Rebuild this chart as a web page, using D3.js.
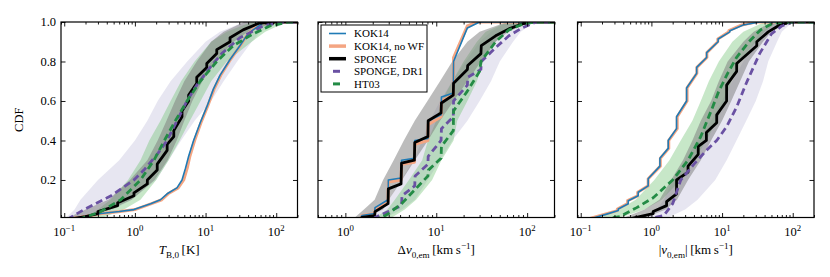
<!DOCTYPE html>
<html>
<head>
<meta charset="utf-8">
<script src="https://cdn.jsdelivr.net/npm/d3@7"></script>
<style>
    body { margin: 0; background: #fff; }
    svg text { font-family: "Liberation Serif", "DejaVu Serif", serif; fill: #000; }
</style>
</head>
<body>
<svg id="chart"></svg>
<script>
// CDF values: [x, cumulative fraction]
var yTicks = [0.2, 0.4, 0.6, 0.8, 1.0];
var tbMajors = [0.1, 1, 10, 100];
var dvMajors = [1, 10, 100];
var vMajors = [0.1, 1, 10, 100];

var legendNames = ["KOK14", "KOK14, no\u2009WF", "SPONGE", "SPONGE, DR1", "HT03"];

// panel 1: T_B,0
var tbKok14 = [[0.1,0],[0.2,0.015],[0.33,0.03],[0.6,0.04],[0.97,0.05],[1.67,0.08],[2.3,0.1],[2.86,0.13],[3.94,0.16],[4.64,0.2],[5.2,0.26],[5.76,0.32],[6.77,0.4],[8.4,0.49],[10.4,0.57],[12.9,0.66],[16,0.73],[22.2,0.81],[30.6,0.88],[38,0.93],[47,0.96],[65,0.995],[100,1],[200,1]];
var tbKok14NoWF = [[0.1,0],[0.2,0.015],[0.34,0.03],[0.62,0.04],[1.0,0.05],[1.72,0.08],[2.4,0.1],[2.95,0.13],[4.1,0.16],[4.9,0.2],[5.5,0.26],[6.0,0.32],[7.0,0.4],[8.6,0.49],[10.6,0.57],[13.2,0.66],[16.4,0.73],[22.5,0.81],[31,0.88],[38,0.93],[46,0.96],[62,0.995],[95,1],[200,1]];
var tbSponge = [[0.11,0],[0.2,0.015],[0.3,0.03],[0.3,0.04],[0.57,0.07],[0.57,0.085],[0.97,0.12],[0.97,0.135],[1.5,0.18],[1.5,0.2],[2.07,0.25],[2.07,0.28],[2.86,0.35],[2.86,0.38],[3.55,0.42],[3.55,0.45],[4.64,0.52],[4.64,0.55],[5.76,0.6],[5.76,0.63],[7.5,0.69],[7.5,0.72],[10.4,0.77],[10.4,0.79],[14.4,0.84],[14.4,0.86],[22.2,0.9],[22.2,0.92],[34,0.96],[58,0.995],[100,1],[200,1]];
var tbDr1 = [[0.11,0],[0.19,0.05],[0.46,0.12],[0.97,0.2],[1.34,0.25],[2.07,0.33],[2.86,0.4],[3.94,0.5],[5.46,0.6],[7.5,0.68],[11.6,0.77],[16.9,0.84],[30.6,0.92],[65,0.98],[120,1],[200,1]];
var tbHt03 = [[0.16,0],[0.33,0.04],[0.63,0.1],[1.2,0.2],[1.86,0.3],[2.71,0.41],[3.74,0.5],[5.46,0.6],[8.4,0.7],[14.4,0.8],[24.7,0.88],[47,0.94],[81,0.98],[150,1],[200,1]];
// bootstrap spread: [cumulative fraction, low x, high x]
var tbSpongeBand = [[0,0.1,0.13],[0.05,0.2,0.45],[0.1,0.42,0.9],[0.2,0.85,1.9],[0.3,1.5,2.9],[0.4,2.1,3.9],[0.5,2.8,5.0],[0.6,3.7,6.5],[0.7,5.0,9.0],[0.8,7.5,14],[0.9,12,25],[0.95,18,40],[1,35,100]];
var tbDr1Band = [[0,0.1,0.2],[0.05,0.14,0.5],[0.1,0.17,0.9],[0.2,0.3,2.0],[0.3,0.6,3.0],[0.4,1.0,4.5],[0.5,1.5,7],[0.6,2.1,12],[0.7,3.2,18],[0.8,5.5,28],[0.9,10,45],[0.95,16,60],[1,35,110]];
var tbHt03Band = [[0,0.2,0.3],[0.05,0.3,0.7],[0.1,0.45,1.2],[0.2,0.8,2.0],[0.3,1.2,3.0],[0.4,1.6,4.3],[0.5,2.3,6],[0.6,3.2,8.5],[0.7,4.5,12],[0.8,7,20],[0.9,12,45],[0.95,20,70],[1,45,140]];

// panel 2: delta v
var dvKok14 = [[0.5,0],[1.45,0],[1.52,0.02],[2.1,0.03],[2.12,0.06],[2.95,0.1],[2.97,0.2],[4.1,0.21],[4.15,0.3],[5.75,0.31],[5.8,0.4],[8.1,0.41],[8.15,0.5],[11.3,0.53],[11.4,0.62],[15.4,0.64],[15.5,0.8],[22,0.97],[30,1],[200,1]];
var dvKok14NoWF = [[0.5,0],[1.45,0],[1.52,0.02],[2.1,0.03],[2.12,0.05],[2.95,0.09],[2.97,0.19],[4.1,0.2],[4.15,0.28],[5.75,0.29],[5.8,0.38],[8.1,0.4],[8.15,0.48],[11.3,0.52],[11.4,0.6],[15.4,0.63],[15.5,0.82],[22,0.98],[28,1],[200,1]];
var dvSponge = [[0.5,0],[1.45,0],[1.52,0.01],[2.1,0.02],[2.12,0.04],[2.95,0.08],[2.97,0.155],[4.1,0.18],[4.15,0.285],[5.75,0.3],[5.8,0.39],[8.1,0.42],[8.15,0.5],[11.3,0.54],[11.4,0.59],[15.4,0.63],[15.5,0.69],[22,0.76],[22.2,0.78],[31,0.84],[31.3,0.88],[45,0.93],[63,0.965],[88,0.99],[115,1],[200,1]];
var dvDr1 = [[0.5,0],[1.9,0],[2.12,0.01],[2.97,0.04],[4.15,0.07],[4.2,0.12],[5.8,0.17],[5.85,0.22],[8.1,0.28],[8.15,0.32],[11.3,0.4],[11.4,0.46],[15.4,0.52],[15.5,0.6],[22,0.68],[22.2,0.72],[31,0.76],[31.3,0.8],[45,0.87],[63,0.93],[88,0.97],[125,1],[200,1]];
var dvHt03 = [[0.5,0],[2.0,0],[2.5,0.01],[3.0,0.03],[4.15,0.08],[5.8,0.15],[8.1,0.22],[8.2,0.25],[11.3,0.31],[11.4,0.37],[15.4,0.45],[15.5,0.55],[22,0.65],[30,0.75],[31,0.8],[45,0.9],[63,0.96],[90,0.99],[120,1],[200,1]];
var dvSpongeBand = [[0,1.2,1.5],[0.05,1.6,2.6],[0.1,2.1,3.0],[0.2,2.6,4.2],[0.3,3.4,5.8],[0.4,4.4,8.1],[0.5,5.8,11],[0.6,8,15.5],[0.7,11,22],[0.8,15,31],[0.9,22,45],[0.95,30,62],[1,60,110]];
var dvDr1Band = [[0,1.5,2.5],[0.05,2.2,4.2],[0.1,3.0,5.8],[0.2,4.1,8.1],[0.3,5.6,11],[0.4,7,15],[0.5,8.5,22],[0.6,11,30],[0.7,15,40],[0.8,21,50],[0.9,30,70],[0.95,40,85],[1,60,120]];
var dvHt03Band = [[0,2.0,3.0],[0.05,2.9,4.5],[0.1,3.5,6],[0.2,5,9],[0.3,7,11.4],[0.4,8.1,15.5],[0.5,10,17],[0.6,11.4,22],[0.7,15,28],[0.8,20,33],[0.9,28,45],[0.95,35,55],[1,60,90]];

// panel 3: |v|
var vKok14 = [[0.128,0],[0.233,0.027],[0.34,0.045],[0.34,0.053],[0.47,0.08],[0.47,0.095],[0.65,0.12],[0.65,0.138],[0.9,0.17],[0.9,0.206],[1.32,0.27],[1.32,0.31],[1.73,0.36],[1.73,0.4],[2.27,0.46],[2.27,0.52],[3.15,0.6],[3.15,0.666],[4.37,0.74],[4.37,0.77],[6.05,0.82],[6.05,0.845],[8.8,0.9],[8.8,0.914],[12.9,0.95],[12.9,0.956],[19.9,0.985],[34,1],[200,1]];
var vKok14NoWF = [[0.12,0],[0.22,0.027],[0.33,0.045],[0.33,0.053],[0.46,0.08],[0.46,0.095],[0.64,0.12],[0.64,0.138],[0.9,0.17],[0.9,0.206],[1.34,0.27],[1.34,0.31],[1.76,0.36],[1.76,0.4],[2.32,0.46],[2.32,0.52],[3.2,0.6],[3.2,0.666],[4.4,0.74],[4.4,0.77],[6.1,0.82],[6.1,0.845],[8.7,0.9],[8.7,0.914],[12.5,0.95],[12.5,0.956],[19,0.985],[30,1],[200,1]];
var vSponge = [[0.45,0],[0.59,0.01],[1.06,0.03],[1.06,0.04],[1.64,0.07],[1.64,0.09],[2.27,0.13],[2.27,0.2],[3.3,0.24],[3.3,0.27],[4.6,0.33],[4.6,0.37],[6.0,0.4],[6.0,0.44],[8.4,0.49],[8.4,0.53],[11.6,0.6],[11.6,0.68],[16.1,0.75],[16.1,0.79],[31,0.88],[31,0.9],[45,0.95],[62,0.98],[91,1],[200,1]];
var vDr1 = [[0.8,0],[1.5,0.02],[2.0,0.08],[2.6,0.2],[4.0,0.28],[6.0,0.35],[8.4,0.4],[11.6,0.47],[16.1,0.57],[22,0.69],[34,0.84],[50,0.94],[70,0.98],[100,1],[200,1]];
var vHt03 = [[0.2,0],[0.36,0.015],[0.62,0.06],[1.06,0.11],[2.0,0.2],[3.3,0.3],[5.0,0.42],[7.0,0.55],[9.0,0.65],[12,0.74],[16,0.82],[24,0.9],[35,0.96],[50,0.99],[70,1],[200,1]];
var vSpongeBand = [[0,0.35,0.7],[0.05,0.8,1.6],[0.1,1.3,2.3],[0.2,1.9,3.3],[0.3,2.8,5],[0.4,3.8,7],[0.5,5,10],[0.6,7,13.5],[0.7,9,18],[0.8,12,24],[0.9,20,38],[0.95,28,50],[1,50,90]];
var vDr1Band = [[0,0.7,1.5],[0.05,1.2,3.0],[0.1,1.5,4.5],[0.2,2.0,8],[0.3,3.0,11.6],[0.4,4.5,16],[0.5,7,22],[0.6,10,30],[0.7,14,38],[0.8,20,45],[0.9,28,60],[0.95,35,70],[1,60,100]];
var vHt03Band = [[0,0.15,0.3],[0.05,0.35,0.8],[0.1,0.6,1.4],[0.2,1.1,2.6],[0.3,1.8,4],[0.4,2.6,6],[0.5,3.8,8.4],[0.6,5,11],[0.7,6.5,13.5],[0.8,9,18],[0.9,14,30],[0.95,20,40],[1,40,60]];

var width = 830, height = 277;
var panelLeft = [61, 318, 577.5];
var panelWidth = 236.5;
var plotTop = 22, plotBottom = 217.5;

var colors = {
    kok14: "#1f7bb6",
    nowf: "#f4a582",
    sponge: "#000000",
    dr1: "#6a51a3",
    ht03: "#238b45"
};

// draw order: orange under blue, then black, purple, green
var lineStyles = [
    { key: 1, color: colors.nowf, width: 3, dash: null },
    { key: 0, color: colors.kok14, width: 1.6, dash: null },
    { key: 2, color: colors.sponge, width: 2.8, dash: null },
    { key: 3, color: colors.dr1, width: 2.8, dash: "7,4" },
    { key: 4, color: colors.ht03, width: 2.8, dash: "7,4" }
];
var bandStyles = [
    { key: 3, color: "#9e9ac8", opacity: 0.25 },
    { key: 4, color: "#74c476", opacity: 0.4 },
    { key: 2, color: "#7a7a7a", opacity: 0.5 }
];

var panels = [
    { domain: [0.09, 200], majors: tbMajors,
      curves: [tbKok14, tbKok14NoWF, tbSponge, tbDr1, tbHt03],
      bands: { 2: tbSpongeBand, 3: tbDr1Band, 4: tbHt03Band },
      title: [{ t: "T", it: true }, { t: "B,0", sub: true }, { t: "\u2009[K]" }] },
    { domain: [0.5, 200], majors: dvMajors,
      curves: [dvKok14, dvKok14NoWF, dvSponge, dvDr1, dvHt03],
      bands: { 2: dvSpongeBand, 3: dvDr1Band, 4: dvHt03Band },
      title: [{ t: "\u0394" }, { t: "v", it: true }, { t: "0,em", sub: true }, { t: "\u2009[km\u2009s" }, { t: "\u22121", sup: true }, { t: "]" }] },
    { domain: [0.09, 200], majors: vMajors,
      curves: [vKok14, vKok14NoWF, vSponge, vDr1, vHt03],
      bands: { 2: vSpongeBand, 3: vDr1Band, 4: vHt03Band },
      title: [{ t: "|" }, { t: "v", it: true }, { t: "0,em", sub: true }, { t: "|\u2009[km\u2009s" }, { t: "\u22121", sup: true }, { t: "]" }] }
];

var svg = d3.select("#chart").attr("width", width).attr("height", height);

var y = d3.scaleLinear().domain([0.01, 1.0]).range([plotBottom, plotTop]);

function richText(sel, parts, size) {
    var shift = 0;
    parts.forEach(function(p) {
        var target = p.sub ? 3.5 : (p.sup ? -5 : 0);
        sel.append("tspan")
            .attr("dy", target - shift)
            .style("font-size", (p.sub || p.sup) ? (size * 0.7) + "px" : size + "px")
            .style("font-style", p.it ? "italic" : "normal")
            .text(p.t);
        shift = target;
    });
}

function expLabel(v) {
    var e = Math.round(Math.log10(v));
    return [{ t: "10" }, { t: (e < 0 ? "\u2212" : "") + Math.abs(e), sup: true }];
}

panels.forEach(function(p, pi) {
    var x0 = panelLeft[pi], x1 = x0 + panelWidth;
    var x = d3.scaleLog().domain(p.domain).range([x0, x1]);
    var g = svg.append("g");

    g.append("clipPath").attr("id", "clip" + pi)
        .append("rect")
        .attr("x", x0).attr("y", plotTop)
        .attr("width", panelWidth).attr("height", plotBottom - plotTop);

    var plot = g.append("g").attr("clip-path", "url(#clip" + pi + ")");

    var area = d3.area()
        .y(function(d) { return y(d[0]); })
        .x0(function(d) { return x(d[1]); })
        .x1(function(d) { return x(d[2]); });

    bandStyles.forEach(function(s) {
        plot.append("path")
            .datum(p.bands[s.key])
            .attr("d", area)
            .attr("fill", s.color)
            .attr("fill-opacity", s.opacity);
    });

    var line = d3.line()
        .x(function(d) { return x(d[0]); })
        .y(function(d) { return y(d[1]); });

    lineStyles.forEach(function(s) {
        plot.append("path")
            .datum(p.curves[s.key])
            .attr("d", line)
            .attr("fill", "none")
            .attr("stroke", s.color)
            .attr("stroke-width", s.width)
            .attr("stroke-dasharray", s.dash)
            .attr("stroke-linejoin", "round");
    });

    // ticks, all pointing inward
    var minors = x.ticks().filter(function(t) {
        return !p.majors.some(function(m) { return Math.abs(m - t) / m < 1e-6; });
    });
    function tickAxis(axis, vals, size, tr) {
        var a = g.append("g").attr("transform", tr)
            .call(axis.tickValues(vals).tickSize(-size).tickFormat(""));
        a.select(".domain").remove();
        a.selectAll("line").attr("stroke", "#000").attr("stroke-width", 0.9);
    }
    tickAxis(d3.axisBottom(x), p.majors, 4.5, "translate(0," + plotBottom + ")");
    tickAxis(d3.axisBottom(x), minors, 2.5, "translate(0," + plotBottom + ")");
    tickAxis(d3.axisTop(x), p.majors, 4.5, "translate(0," + plotTop + ")");
    tickAxis(d3.axisTop(x), minors, 2.5, "translate(0," + plotTop + ")");
    tickAxis(d3.axisLeft(y), yTicks, 4.5, "translate(" + x0 + ",0)");
    tickAxis(d3.axisRight(y), yTicks, 4.5, "translate(" + x1 + ",0)");

    g.append("rect")
        .attr("x", x0).attr("y", plotTop)
        .attr("width", panelWidth).attr("height", plotBottom - plotTop)
        .attr("fill", "none").attr("stroke", "#000").attr("stroke-width", 1.2);

    p.majors.forEach(function(m) {
        var t = g.append("text")
            .attr("x", x(m)).attr("y", 236)
            .attr("text-anchor", "middle");
        richText(t, expLabel(m), 12.5);
    });

    var title = g.append("text")
        .attr("x", (x0 + x1) / 2).attr("y", 254)
        .attr("text-anchor", "middle");
    richText(title, p.title, 13);

    if (pi === 0) {
        yTicks.forEach(function(v) {
            g.append("text")
                .attr("x", x0 - 5).attr("y", y(v))
                .attr("dy", "0.35em")
                .attr("text-anchor", "end")
                .style("font-size", "12.5px")
                .text(d3.format(".1f")(v));
        });
        g.append("text")
            .attr("transform", "translate(23," + ((plotTop + plotBottom) / 2) + ") rotate(-90)")
            .attr("text-anchor", "middle")
            .style("font-size", "12.5px")
            .text("CDF");
    }

    if (pi === 1) {
        var lg = g.append("g").attr("transform", "translate(" + (x0 + 3) + "," + (plotTop + 3) + ")");
        lg.append("rect")
            .attr("width", 106).attr("height", 67)
            .attr("fill", "#fff").attr("stroke", "#000").attr("stroke-width", 1);
        var legendStyles = [
            { color: colors.kok14, width: 1.6, dashed: false },
            { color: colors.nowf, width: 3.5, dashed: false },
            { color: colors.sponge, width: 3.5, dashed: false },
            { color: colors.dr1, width: 3, dashed: true },
            { color: colors.ht03, width: 3, dashed: true }
        ];
        legendNames.forEach(function(name, i) {
            var ly = 8.5 + i * 12.6;
            var s = legendStyles[i];
            lg.append("line")
                .attr("x1", s.dashed ? 12 : 8).attr("x2", s.dashed ? 19 : 25)
                .attr("y1", ly).attr("y2", ly)
                .attr("stroke", s.color).attr("stroke-width", s.width);
            lg.append("text")
                .attr("x", 33).attr("y", ly).attr("dy", "0.35em")
                .style("font-size", "11px")
                .text(name);
        });
    }
});
</script>
</body>
</html>
